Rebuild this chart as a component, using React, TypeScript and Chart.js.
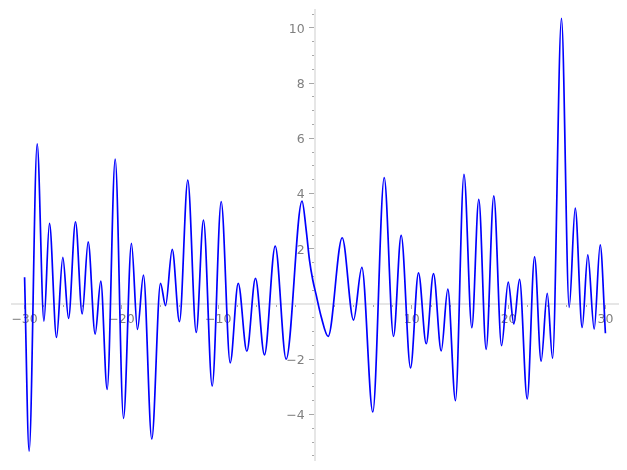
import React, { useEffect, useRef } from 'react';
import { Chart, registerables } from 'chart.js';

Chart.register(...registerables);

// Curve samples (x, y): extrema plus a few shoulder points
const xValues = [
  -30.0, -29.53, -28.7, -28.0, -27.43, -26.7, -26.05, -25.46, -24.74, -24.05,
  -23.43, -22.71, -22.13, -21.47, -20.64, -19.78, -18.96, -18.34, -17.72, -16.86,
  -15.96, -15.44, -14.75, -14.0, -13.14, -12.27, -11.52, -10.62, -9.69, -8.76,
  -7.93, -7.04, -6.15, -5.22, -4.11, -2.98, -1.34, -0.91, -0.57, -0.23,
  0.12, 0.64, 1.36, 2.81, 3.98, 4.84, 5.97, 7.15, 8.11, 8.9,
  9.87, 10.69, 11.49, 12.24, 13.04, 13.72, 14.51, 15.39, 16.2, 16.92,
  17.68, 18.47, 19.27, 19.96, 20.54, 21.13, 21.92, 22.68, 23.36, 23.99,
  24.54, 25.46, 26.26, 26.88, 27.6, 28.18, 28.84, 29.46, 30.0,
];
const yValues = [
  0.97, -5.33, 5.8, -0.62, 2.92, -1.21, 1.69, -0.52, 2.98, -0.36,
  2.25, -1.09, 0.83, -3.09, 5.25, -4.14, 2.2, -0.92, 1.05, -4.89,
  0.75, -0.06, 1.98, -0.64, 4.49, -1.03, 3.04, -2.97, 3.71, -2.13,
  0.75, -1.71, 0.93, -1.84, 2.1, -2.0, 3.73, 2.68, 1.59, 0.87,
  0.33, -0.46, -1.17, 2.4, -0.58, 1.33, -3.91, 4.58, -1.17, 2.49,
  -2.31, 1.13, -1.44, 1.1, -1.7, 0.54, -3.5, 4.7, -0.86, 3.79,
  -1.64, 3.92, -1.51, 0.79, -0.72, 0.89, -3.44, 1.71, -2.07, 0.39,
  -1.97, 10.35, -0.12, 3.47, -0.85, 1.78, -0.91, 2.14, -1.06,
];

// Axis ranges and tick steps
const xRange = [-31.3, 31.3];
const yRange = [-5.65, 10.65];
const xMajorStep = 10;
const xMinorStep = 2;
const yMajorStep = 2;
const yMinorStep = 0.5;

const FONT = { family: 'DejaVu Sans', size: 12.5 };
const LABEL_COLOR = '#808080';
const AXIS_COLOR = '#e6e6e6';
const TICK_COLOR = '#a8a8a8';

const fmt = (v: number | string) => {
  const n = Number(v);
  if (Math.abs(n) < 1e-9) return '';
  return n < 0 ? '\u2212' + String(Math.abs(n)) : String(n);
};

export default function App() {
  const ref = useRef<HTMLCanvasElement | null>(null);

  useEffect(() => {
    if (!ref.current) return;
    const points = xValues.map((x, i) => ({ x, y: yValues[i] }));
    const chart = new Chart(ref.current, {
      type: 'line',
      data: {
        datasets: [
          {
            data: points,
            borderColor: '#0000ff',
            borderWidth: 1.7,
            pointRadius: 0,
            fill: false,
            cubicInterpolationMode: 'monotone',
            xAxisID: 'x',
            yAxisID: 'y',
          },
        ],
      },
      options: {
        animation: false,
        responsive: true,
        maintainAspectRatio: false,
        parsing: false,
        layout: { padding: { left: 12, right: 9, top: 10, bottom: 10 } },
        plugins: { legend: { display: false }, tooltip: { enabled: false } },
        scales: {
          x: {
            type: 'linear',
            position: { y: 0 } as any,
            min: xRange[0],
            max: xRange[1],
            border: { display: true, color: AXIS_COLOR, width: 2 },
            grid: { drawOnChartArea: false, drawTicks: true, tickLength: 4, tickColor: TICK_COLOR, tickWidth: 1 },
            ticks: {
              stepSize: xMajorStep,
              includeBounds: false,
              autoSkip: false,
              maxRotation: 0,
              padding: 4,
              color: LABEL_COLOR,
              font: FONT,
              callback: (v: any) => fmt(v),
            },
          },
          x2: {
            type: 'linear',
            axis: 'x',
            position: { y: 0 } as any,
            min: xRange[0],
            max: xRange[1],
            border: { display: false },
            grid: { drawOnChartArea: false, drawTicks: true, tickLength: 3, tickColor: TICK_COLOR, tickWidth: 1 },
            ticks: { stepSize: xMinorStep, includeBounds: false, autoSkip: false, maxRotation: 0, padding: 0, font: FONT, callback: () => '' },
          },
          y: {
            type: 'linear',
            position: { x: 0 } as any,
            min: yRange[0],
            max: yRange[1],
            border: { display: true, color: AXIS_COLOR, width: 2 },
            grid: { drawOnChartArea: false, drawTicks: true, tickLength: 5, tickColor: TICK_COLOR, tickWidth: 1 },
            ticks: {
              stepSize: yMajorStep,
              includeBounds: false,
              autoSkip: false,
              padding: 0,
              labelOffset: 1.5,
              color: LABEL_COLOR,
              font: FONT,
              // object-positioned y axes ignore tick padding, so pad the label text
              callback: (v: any) => {
                const s = fmt(v);
                return s === '' ? '' : s + '\u2002 ';
              },
            },
          },
          y2: {
            type: 'linear',
            axis: 'y',
            position: { x: 0 } as any,
            min: yRange[0],
            max: yRange[1],
            border: { display: false },
            grid: { drawOnChartArea: false, drawTicks: true, tickLength: 3, tickColor: TICK_COLOR, tickWidth: 1 },
            ticks: { stepSize: yMinorStep, includeBounds: false, autoSkip: false, padding: 0, font: FONT, callback: () => '' },
          },
        },
      } as any,
    });
    return () => chart.destroy();
  }, []);

  return (
    <div style={{ position: 'fixed', left: 0, top: 0, width: 627, height: 470, background: '#fff' }}>
      <canvas ref={ref} />
    </div>
  );
}
